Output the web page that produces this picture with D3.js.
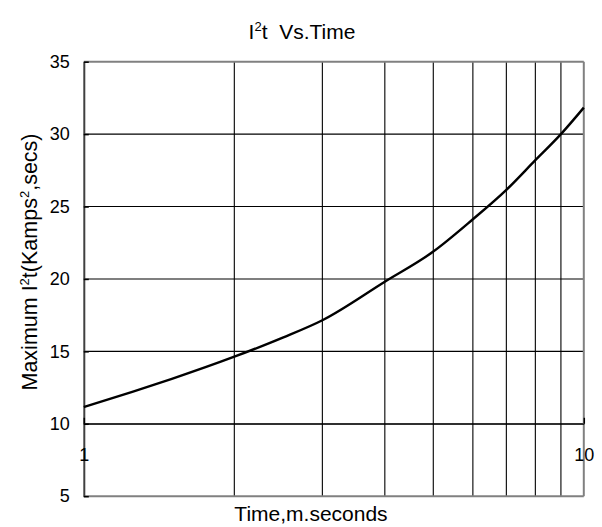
<!DOCTYPE html>
<html>
<head>
<meta charset="utf-8">
<script src="https://cdn.jsdelivr.net/npm/d3@7"></script>
<style>
body { margin: 0; background: #fff; }
text { font-family: "Liberation Sans", Arial, sans-serif; fill: #000; white-space: pre; }
</style>
</head>
<body>
<svg width="602" height="527"></svg>
<script>
// values
var timeMs = [1, 1.25, 1.5, 2, 2.5, 3, 4, 5, 6, 7, 8, 9, 10];
var i2t = [11.15, 12.2, 13.1, 14.63, 15.95, 17.15, 19.81, 21.89, 24.12, 26.15, 28.2, 30.0, 31.83];
var yTicks = [5, 10, 15, 20, 25, 30, 35];
var xGrid = [2, 3, 4, 5, 6, 7, 8, 9];
var xLabels = [1, 10];

var svg = d3.select("svg");
var plotLeft = 83.8, plotRight = 583.8, plotTop = 61.7, plotBottom = 496.2;

var x = d3.scaleLog().domain([1, 10]).range([plotLeft, plotRight]);
var y = d3.scaleLinear().domain([5, 35]).range([plotBottom, plotTop]);

// horizontal grid
svg.append("g").selectAll("line")
    .data(yTicks.filter(function (d) { return d > 5 && d < 35; }))
    .join("line")
    .attr("x1", plotLeft).attr("x2", plotRight)
    .attr("y1", function (d) { return y(d); })
    .attr("y2", function (d) { return y(d); })
    .attr("stroke", "#000").attr("stroke-width", 1.1);

// vertical grid
svg.append("g").selectAll("line")
    .data(xGrid)
    .join("line")
    .attr("x1", function (d) { return x(d); })
    .attr("x2", function (d) { return x(d); })
    .attr("y1", plotTop).attr("y2", plotBottom)
    .attr("stroke", "#000").attr("stroke-width", 1.1);

// frame
svg.append("line").attr("x1", plotLeft).attr("x2", plotRight).attr("y1", plotTop).attr("y2", plotTop)
    .attr("stroke", "#808080").attr("stroke-width", 2);
svg.append("line").attr("x1", plotRight).attr("x2", plotRight).attr("y1", plotTop).attr("y2", plotBottom)
    .attr("stroke", "#808080").attr("stroke-width", 2);
svg.append("line").attr("x1", plotLeft).attr("x2", plotRight).attr("y1", plotBottom).attr("y2", plotBottom)
    .attr("stroke", "#808080").attr("stroke-width", 2);

// y axis
var yAxis = d3.axisLeft(y).tickValues(yTicks).tickSizeInner(-5).tickSizeOuter(0).tickPadding(14);
var gy = svg.append("g").attr("transform", "translate(" + plotLeft + ",0)").call(yAxis);
gy.select(".domain").attr("stroke", "#404040").attr("stroke-width", 2);
gy.selectAll(".tick line").attr("stroke", "#000").attr("stroke-width", 1.5);
gy.selectAll(".tick text").attr("font-size", 18).attr("font-family", "Liberation Sans, Arial, sans-serif");

// x axis crossing at y = 10
var xAxis = d3.axisBottom(x).tickValues(xLabels).tickFormat(d3.format("d"))
    .tickSizeInner(-6).tickSizeOuter(0).tickPadding(24);
var gx = svg.append("g").attr("transform", "translate(0," + y(10) + ")").call(xAxis);
gx.select(".domain").attr("stroke", "#000").attr("stroke-width", 1.1);
gx.selectAll(".tick line").attr("stroke", "#000").attr("stroke-width", 1.5);
gx.selectAll(".tick text").attr("font-size", 18).attr("font-family", "Liberation Sans, Arial, sans-serif");

// curve
var line = d3.line()
    .x(function (d, i) { return x(timeMs[i]); })
    .y(function (d) { return y(d); })
    .curve(d3.curveMonotoneX);
svg.append("path").datum(i2t)
    .attr("d", line)
    .attr("fill", "none").attr("stroke", "#000").attr("stroke-width", 2.4);

// title
var title = svg.append("text").attr("x", 302).attr("y", 38.5)
    .attr("text-anchor", "middle").attr("font-size", 21);
title.append("tspan").text("I");
title.append("tspan").attr("font-size", 13).attr("dy", -8).text("2");
title.append("tspan").attr("dy", 8).text("t  Vs.Time");

// x title
svg.append("text").attr("x", 311).attr("y", 521)
    .attr("text-anchor", "middle").attr("font-size", 21)
    .text("Time,m.seconds");

// y title
var yt = svg.append("text").attr("transform", "translate(37,262) rotate(-90)")
    .attr("text-anchor", "middle").attr("font-size", 21.5);
yt.append("tspan").text("Maximum I");
yt.append("tspan").attr("font-size", 13).attr("dy", -8).text("2");
yt.append("tspan").attr("dy", 8).text("t(Kamps");
yt.append("tspan").attr("font-size", 13).attr("dy", -8).text("2");
yt.append("tspan").attr("dy", 8).text(",secs)");
</script>
</body>
</html>
